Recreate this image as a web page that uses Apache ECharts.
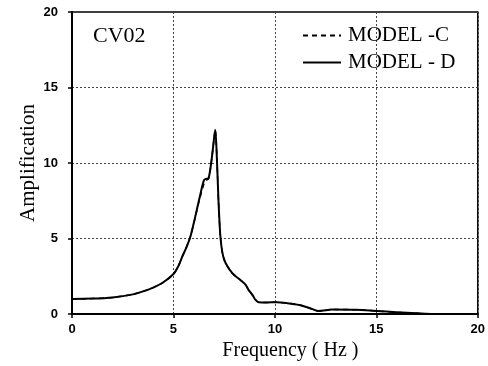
<!DOCTYPE html>
<html>
<head>
<meta charset="utf-8">
<script src="https://cdn.jsdelivr.net/npm/echarts@6/dist/echarts.min.js"></script>
<style>html,body{margin:0;padding:0;background:#fff}#c{width:488px;height:366px}</style>
</head>
<body>
<div id="c"></div>
<script>
var freq = [0,1,2,3,3.5,4,4.5,5,5.25,5.45,5.65,5.83,6.05,6.27,6.5,6.6,6.73,6.86,6.95,7.06,7.15,7.22,7.33,7.5,7.9,8.3,8.56,8.7,8.9,9.05,9.2,9.6,10.1,10.6,11.2,11.7,12.15,12.5,12.8,14,15,16,17,17.8,20];
var modelD = [1.0,1.02,1.1,1.3,1.5,1.75,2.1,2.65,3.2,3.85,4.45,5.1,6.3,7.6,8.85,8.95,9.0,10.0,11.0,12.2,10.0,7.5,4.9,3.6,2.7,2.25,1.93,1.6,1.25,0.93,0.78,0.76,0.78,0.72,0.6,0.4,0.2,0.25,0.3,0.28,0.2,0.12,0.05,0,0];
var modelC = [1.0,1.02,1.1,1.3,1.5,1.75,2.1,2.65,3.2,3.85,4.45,5.1,6.25,7.5,8.6,8.85,8.95,10.0,11.0,12.2,10.0,7.5,4.9,3.6,2.7,2.25,1.93,1.6,1.25,0.93,0.78,0.76,0.78,0.72,0.6,0.4,0.2,0.25,0.3,0.28,0.2,0.12,0.05,0,0];
var xTicks = [0,5,10,15,20];
var yTicks = [0,5,10,15,20];

function pairs(xs, ys){ return xs.map(function(x,i){ return [x, ys[i]]; }); }

var chart = echarts.init(document.getElementById('c'));
var serif = '"Liberation Serif","DejaVu Serif",serif';
var sans = '"Liberation Sans",Arial,sans-serif';
chart.setOption({
  animation: false,
  grid: {left: 72, right: 8, top: 12, bottom: 52, show: true, borderColor: '#000', borderWidth: 1.5, backgroundColor: 'transparent'},
  title: {text: 'CV02', left: 88, top: 20, textStyle: {fontFamily: serif, fontSize: 22, fontWeight: 'normal', color: '#000'}},
  legend: {
    orient: 'vertical', left: 297, top: 20, itemWidth: 38, itemHeight: 10, itemGap: 6,
    itemStyle: {opacity: 0},
    textStyle: {fontFamily: serif, fontSize: 21, color: '#000', padding: [0,0,0,2]},
    data: ['MODEL -C', 'MODEL - D']
  },
  xAxis: {
    type: 'value', min: 0, max: 20, interval: 5,
    name: 'Frequency ( Hz )', nameLocation: 'middle', nameGap: 27, nameMoveOverlap: false,
    nameTextStyle: {fontFamily: serif, fontSize: 20, color: '#000', padding: [0,0,0,31]},
    axisLine: {show: true, lineStyle: {color: '#000', width: 2}},
    axisTick: {show: true, length: 4, inside: false, lineStyle: {color: '#000', width: 1.5}},
    axisLabel: {fontFamily: sans, fontWeight: 'bold', fontSize: 13, color: '#000', margin: 9,
      formatter: function(v){ return xTicks.indexOf(v) >= 0 ? String(v) : ''; }},
    splitLine: {show: true, lineStyle: {color: '#444', type: [2, 2], width: 1}}
  },
  yAxis: {
    type: 'value', min: 0, max: 20, interval: 5,
    name: 'Amplification', nameLocation: 'middle', nameGap: 33, nameMoveOverlap: false,
    nameTextStyle: {fontFamily: serif, fontSize: 21, color: '#000'},
    axisLine: {show: true, lineStyle: {color: '#000', width: 2}},
    axisTick: {show: true, length: 4, lineStyle: {color: '#000', width: 1.5}},
    axisLabel: {fontFamily: sans, fontWeight: 'bold', fontSize: 13, color: '#000', margin: 14,
      formatter: function(v){ return yTicks.indexOf(v) >= 0 ? String(v) : ''; }},
    splitLine: {show: true, lineStyle: {color: '#444', type: [2, 2], width: 1}}
  },
  series: [
    {name: 'MODEL -C', type: 'line', data: pairs(freq, modelC), showSymbol: false, symbol: 'none', smooth: 0.3,
      lineStyle: {color: '#000', width: 1.5, type: [5, 4]}, itemStyle: {color: '#000'}},
    {name: 'MODEL - D', type: 'line', data: pairs(freq, modelD), showSymbol: false, symbol: 'none', smooth: 0.3,
      lineStyle: {color: '#000', width: 2, type: 'solid'}, itemStyle: {color: '#000'}}
  ]
});
</script>
</body>
</html>
